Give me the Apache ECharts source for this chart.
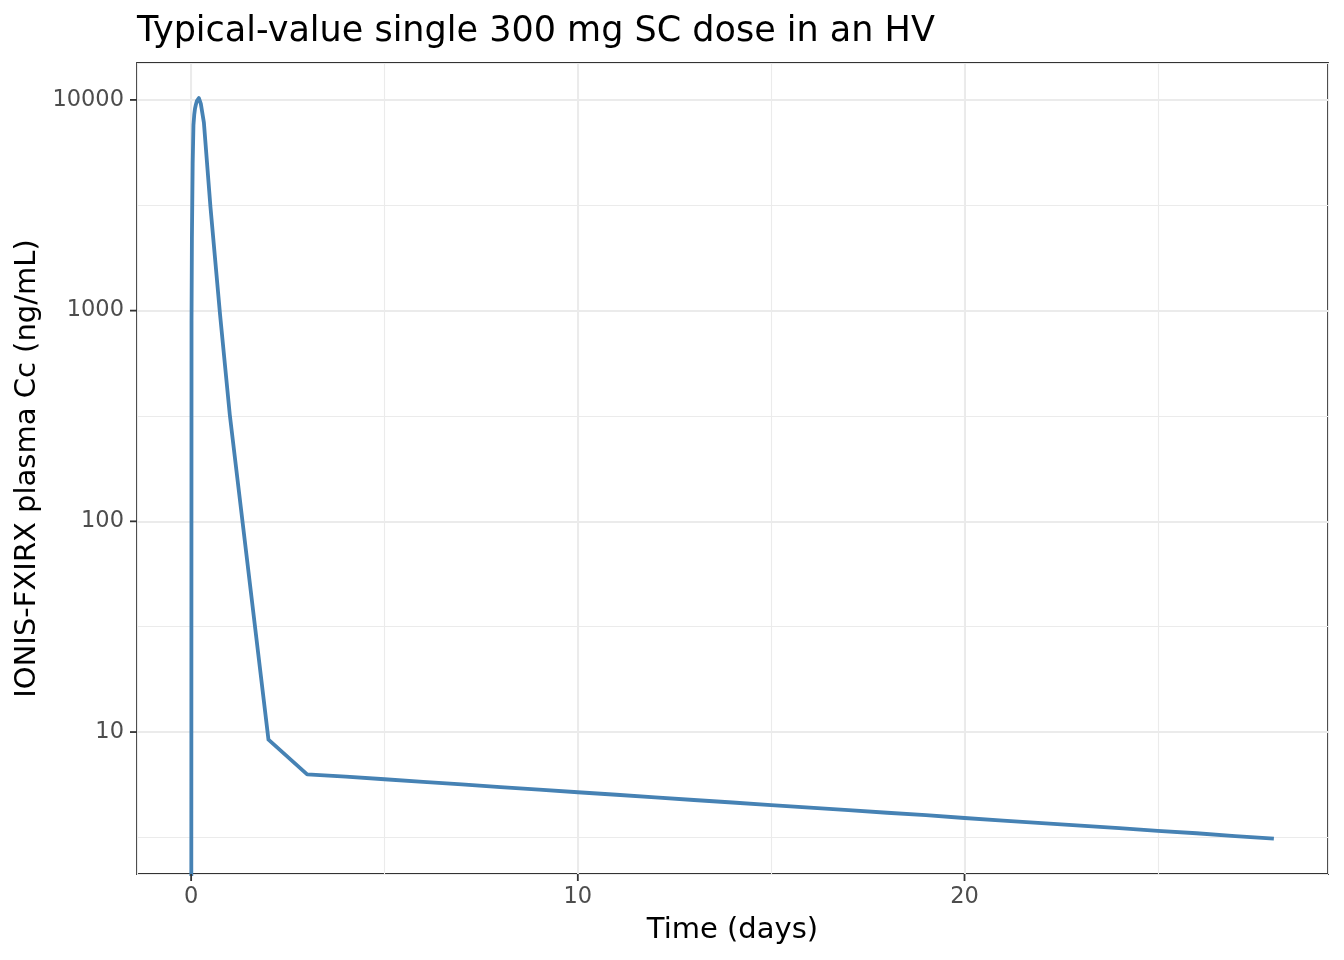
<!DOCTYPE html>
<html>
<head>
<meta charset="utf-8">
<title>Typical-value single 300 mg SC dose</title>
<script src="https://cdn.jsdelivr.net/npm/echarts@6/dist/echarts.min.js"></script>
<style>
  html, body { margin: 0; padding: 0; background: #fff; }
  #chart { width: 1344px; height: 960px; }
</style>
</head>
<body>
<div id="chart"></div>
<script>
// time (days) and typical-value concentration (ng/mL)
var timeDays = [0, 0.01, 0.02, 0.04, 0.06, 0.08, 0.1, 0.12, 0.15, 0.2, 0.25, 0.33, 0.5, 0.75, 1,
  2, 3, 4, 5, 6, 7, 8, 9, 10, 11, 12, 13, 14, 15, 16, 17, 18, 19, 20,
  21, 22, 23, 24, 25, 26, 27, 28];
var concNgMl = [0.01, 900, 2200, 5000, 7600, 8500, 9100, 9460, 9900, 10200, 9600, 7800, 3100, 950, 320,
  9.2, 6.3, 6.14, 5.97, 5.8, 5.64, 5.48, 5.33, 5.18, 5.04, 4.9, 4.76, 4.63, 4.5, 4.38, 4.26, 4.14, 4.03, 3.91,
  3.8, 3.7, 3.6, 3.5, 3.4, 3.31, 3.21, 3.12];

// axis breaks
var xTicks = [0, 10, 20];
var yTicks = [10, 100, 1000, 10000];
var xRange = [-1.4, 29.4];
var yRange = [2.12, 14970];

var font = 'DejaVu Sans';
var gridCol = '#EBEBEB';
var inkCol = '#333333';
var labelCol = '#4D4D4D';
var tickLen = 7;

var points = [];
for (var i = 0; i < timeDays.length; i++) {
  points.push([timeDays[i], concNgMl[i]]);
}

// tick positions on the panel edges, placed through the axes
var xTickData = [];
for (var j = 0; j < xTicks.length; j++) xTickData.push([xTicks[j], yRange[0]]);
var yTickData = [];
for (var k = 0; k < yTicks.length; k++) yTickData.push([xRange[0], yTicks[k]]);

function tickItem(dx, dy) {
  return function (params, api) {
    var p = api.coord([api.value(0), api.value(1)]);
    return {
      type: 'line',
      shape: { x1: p[0], y1: p[1], x2: p[0] + dx, y2: p[1] + dy },
      style: { stroke: inkCol, lineWidth: 1.8 }
    };
  };
}

var chart = echarts.init(document.getElementById('chart'), null, { renderer: 'canvas' });

var option = {
  animation: false,
  backgroundColor: '#ffffff',
  title: {
    text: 'Typical-value single 300 mg SC dose in an HV',
    left: 137,
    top: 14,
    padding: 0,
    textStyle: { fontFamily: font, fontSize: 35, fontWeight: 'normal', color: '#000000' }
  },
  grid: {
    left: 137, right: 16, top: 63, bottom: 86,
    show: true, borderColor: inkCol, borderWidth: 1.8, backgroundColor: 'transparent'
  },
  xAxis: [
    {
      type: 'value',
      min: xRange[0], max: xRange[1],
      splitNumber: 3,
      name: 'Time (days)',
      nameLocation: 'middle',
      nameGap: 42,
      nameTextStyle: { fontFamily: font, fontSize: 29, color: '#000000' },
      axisLine: { show: false, onZero: false },
      axisTick: { show: false, customValues: xTicks },
      axisLabel: {
        customValues: xTicks,
        margin: 12, fontFamily: font, fontSize: 22.5, color: labelCol,
        formatter: function (v) { return String(v); }
      },
      splitLine: { show: true, lineStyle: { color: gridCol, width: 2 } }
    },
    {
      // minor grid at the half-way breaks
      type: 'value',
      min: xRange[0], max: xRange[1],
      splitNumber: 6,
      axisLine: { show: false, onZero: false },
      axisTick: { show: false },
      axisLabel: { show: false },
      splitLine: { show: true, lineStyle: { color: gridCol, width: 1.1 } }
    }
  ],
  yAxis: [
    {
      type: 'log',
      logBase: 10,
      min: yRange[0], max: yRange[1],
      splitNumber: 5,
      name: 'IONIS-FXIRX plasma Cc (ng/mL)',
      nameLocation: 'middle',
      nameGap: 92,
      nameTextStyle: { fontFamily: font, fontSize: 29, color: '#000000' },
      axisLine: { show: false, onZero: false },
      axisTick: { show: false, customValues: yTicks },
      axisLabel: {
        customValues: yTicks,
        margin: 13, fontFamily: font, fontSize: 22.5, color: labelCol,
        formatter: function (v) { return String(Math.round(v)); }
      },
      splitLine: { show: true, lineStyle: { color: gridCol, width: 2 } }
    },
    {
      // minor grid every half decade
      type: 'log',
      logBase: Math.sqrt(10),
      min: yRange[0], max: yRange[1],
      splitNumber: 5,
      axisLine: { show: false, onZero: false },
      axisTick: { show: false },
      axisLabel: { show: false },
      splitLine: { show: true, lineStyle: { color: gridCol, width: 1.1 } }
    }
  ],
  series: [
    {
      type: 'line',
      xAxisIndex: 0,
      yAxisIndex: 0,
      data: points,
      showSymbol: false,
      symbol: 'none',
      clip: true,
      lineStyle: { color: '#4682B4', width: 3.8, join: 'round', cap: 'butt' },
      z: 5
    },
    {
      // x-axis tick marks below the panel
      type: 'custom',
      xAxisIndex: 0,
      yAxisIndex: 0,
      clip: false,
      silent: true,
      data: xTickData,
      renderItem: tickItem(0, tickLen),
      z: 6
    },
    {
      // y-axis tick marks left of the panel
      type: 'custom',
      xAxisIndex: 0,
      yAxisIndex: 0,
      clip: false,
      silent: true,
      data: yTickData,
      renderItem: tickItem(-tickLen, 0),
      z: 6
    }
  ]
};

chart.setOption(option);
</script>
</body>
</html>
